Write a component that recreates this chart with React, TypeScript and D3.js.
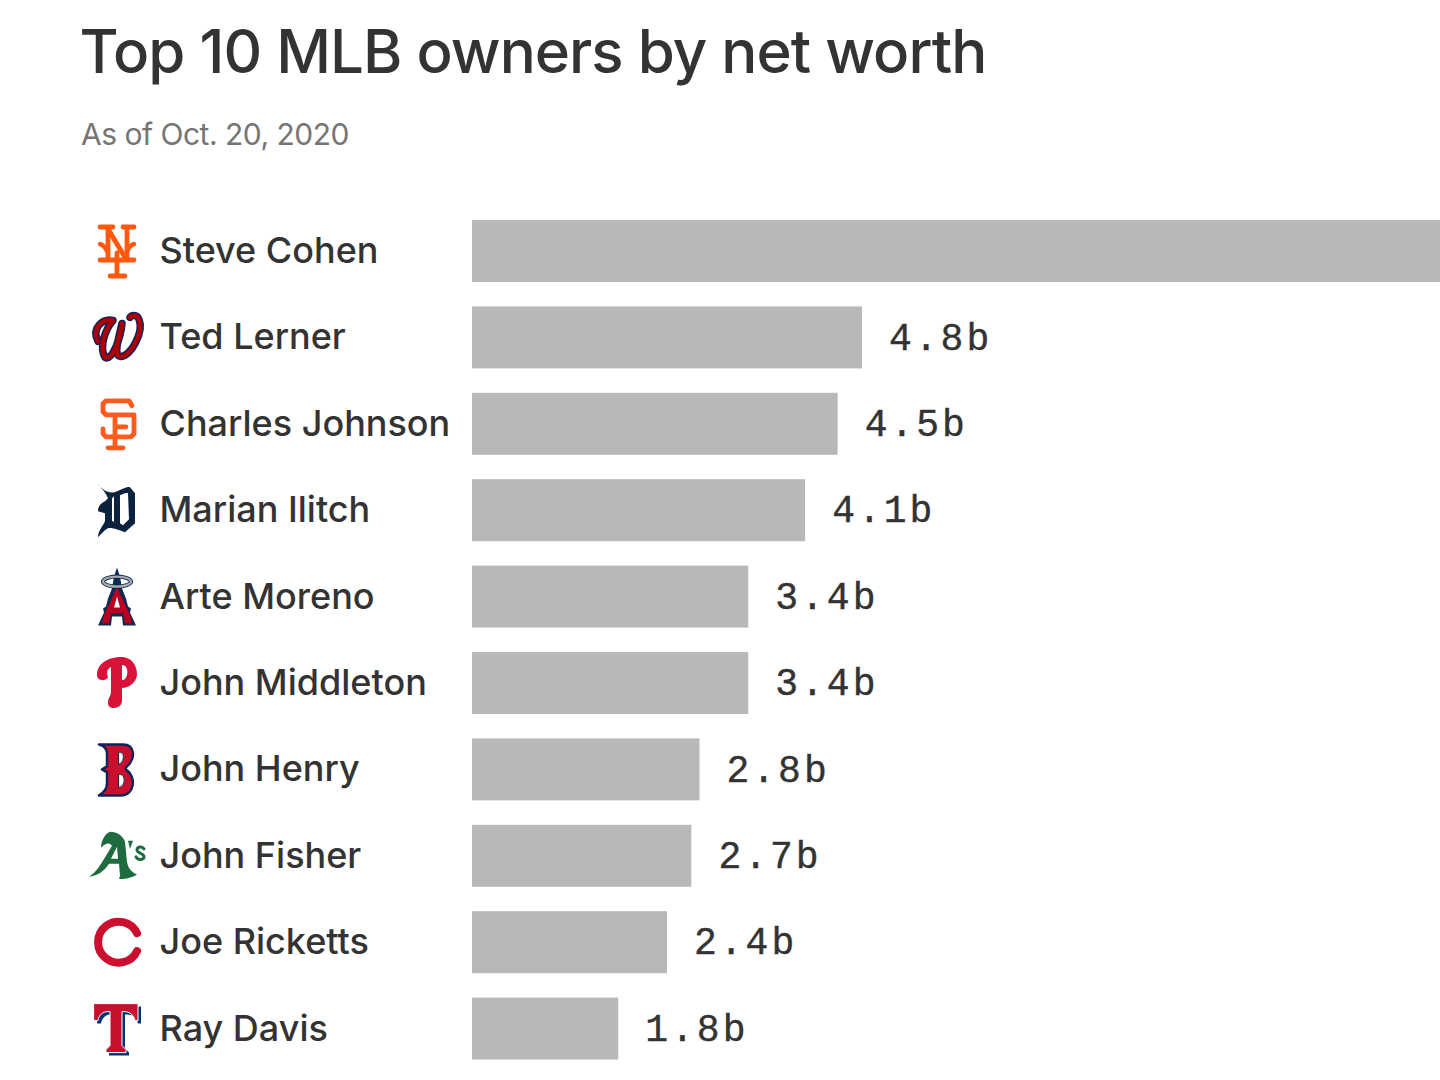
/**
 * Top 10 MLB owners by net worth - D3 scaled horizontal bars
 */

import * as d3 from 'd3';

const owners = ['Steve Cohen', 'Ted Lerner', 'Charles Johnson', 'Marian Ilitch', 'Arte Moreno', 'John Middleton', 'John Henry', 'John Fisher', 'Joe Ricketts', 'Ray Davis'];
const teams = ['mets', 'nationals', 'giants', 'tigers', 'angels', 'phillies', 'redsox', 'athletics', 'cubs', 'rangers'];
// Cohen's bar runs off the page, so his value is an estimate
const netWorth = [14, 4.8, 4.5, 4.1, 3.4, 3.4, 2.8, 2.7, 2.4, 1.8];

const TEXT_FONT = 'Inter, "Noto Sans", sans-serif';
const MONO_FONT = '"Liberation Mono", monospace';

interface LogoPart {
  d: string;
  fill?: string;
  stroke?: string;
  width?: number;
  shift?: number;
}

const W_PATH = 'M-19 4C-26 -10 -14 -19 -4 -17C-12 -8 -18 10 -12 20C-4 24 4 -2 5 -14C2 0 -4 18 3 19C14 20 27 -6 22 -18C20 -24 14 -22 13 -20';
const HALO_PATH = 'M-14 -15A14 5 0 1 0 14 -15A14 5 0 1 0 -14 -15';
const T_PATH = 'M-23 -25H21V-8H18C17 -14 12 -17 7 -17H5V17L9 21V24H-11V21L-7 17V-17H-9C-14 -17 -18 -14 -19 -8H-23Z';

// Team marks, drawn around the centre of their row
const logos: Record<string, LogoPart[]> = {
  mets: [
    { d: 'M-9 9V-24M10 9V-24M-17 -24H-4M6 -24H17M-17 9H-3M3 9H17M0 2V25M-7 25H8', fill: 'none', stroke: '#ff5910', width: 4.8 },
    { d: 'M-9 -22L9 8', fill: 'none', stroke: '#ff5910', width: 5 },
    { d: 'M-17 -7Q-13 -6 -10 0M17 -7Q13 -6 10 0', fill: 'none', stroke: '#ff5910', width: 4.5 },
  ],
  nationals: [
    { d: W_PATH, fill: 'none', stroke: '#14225a', width: 7.5 },
    { d: W_PATH, fill: 'none', stroke: '#ab0003', width: 4.5 },
  ],
  giants: [
    { d: 'M15 -18L12 -23H-11L-14 -20V-12L-11 -9H17V10L14 13H-11L-14 10V5M-2 -9V23M-9 24H6M-2 3H9', fill: 'none', stroke: '#fd5a1e', width: 4.8 },
  ],
  tigers: [
    { d: 'M-20 -27C-14 -20 -9 -17 -3 -18C3 -19 8 -24 13 -23L18 -17V13L8 22C2 20 -5 17 -9 18C-13 20 -16 24 -19 27C-19 21 -15 17 -12 11V3L-19 1C-19 -3 -17 -7 -12 -9L-9 -12C-11 -17 -15 -22 -20 -27Z', fill: '#0c2340' },
    { d: 'M3 -15C6 -16 9 -18 11 -17L12 9L6 15L3 13Z', fill: '#ffffff' },
    { d: 'M-5 -12L-3 -14V12L-5 10Z', fill: '#ffffff' },
  ],
  angels: [
    { d: 'M0 -29L3 -20L5 -8L9 2L11 10L14 12L13 16L19 29H6L5 20H-5L-6 29H-19L-13 16L-14 12L-11 10L-9 2L-5 -8L-3 -20Z', fill: '#0d2a52' },
    { d: 'M0 -10L7 6L13 18L15 27H8L6 17H-6L-8 27H-15L-13 18L-7 6Z', fill: '#ba0021' },
    { d: 'M0 0L3 11H-3Z', fill: '#ffffff' },
    { d: HALO_PATH, fill: 'none', stroke: '#0d2a52', width: 4 },
    { d: HALO_PATH, fill: 'none', stroke: '#a8abb0', width: 2.2 },
  ],
  phillies: [
    { d: 'M-20 -8C-20 -20 -8 -26 4 -26C16 -26 20 -16 20 -9C20 -1 12 5 5 5L5 18C5 26 -9 28 -9 20C-9 14 -6 14 -6 8L-6 -16C-11 -14 -10 -8 -9 -6C-10 -2 -20 -1 -20 -8Z', fill: '#d9123a' },
    { d: 'M5 -18C10 -18 11 -12 10 -8C9 -4 7 -3 5 -3Z', fill: '#ffffff' },
  ],
  redsox: [
    { d: 'M-18 -25H6C18 -25 19 -11 10 -3C8 -1 8 0 10 1C19 7 18 26 4 26H-18C-13 23 -10 20 -10 14V3L-15 0L-10 -3V-16C-10 -20 -13 -24 -18 -25Z', fill: '#c8102e', stroke: '#14225a', width: 2.5 },
    { d: 'M2 -17C8 -18 8 -8 2 -5ZM2 5C9 4 9 17 2 18Z', fill: '#ffffff', stroke: '#14225a', width: 1 },
  ],
  athletics: [
    { d: 'M-7 -24C0 -24 6 -20 8 -14L10 6C11 12 14 16 20 19C14 22 8 24 2 23L3 20L2 8H-8C-13 16 -20 20 -28 21C-20 16 -16 8 -11 0L-5 -10C-8 -14 -12 -12 -16 -8C-16 -15 -12 -22 -7 -24ZM-6 3H1L0 -9Z', fill: '#1d6b3f' },
    { d: 'M11 -15L16 -15L13 -7Z', fill: '#1d6b3f' },
    { d: 'M27 -7C25 -10 20 -9 20 -6C20 -2 27 -3 27 1C27 4 21 5 19 1', fill: 'none', stroke: '#1d6b3f', width: 3 },
  ],
  cubs: [
    { d: 'M20 -9A20.5 20.5 0 1 0 20 9', fill: 'none', stroke: '#cc0f2f', width: 8 },
  ],
  rangers: [
    { d: T_PATH, fill: '#003278', shift: 3 },
    { d: T_PATH, fill: '#c8102e', stroke: '#ffffff', width: 1 },
  ],
};

const x = d3.scaleLinear().domain([0, 1]).range([472, 553.25]);
const y = d3.scaleBand<string>().domain(owners).range([220, 1059.6]).paddingInner(0.2824).paddingOuter(0);

export default function App() {
  return (
    <svg width={1440} height={1080} viewBox="0 0 1440 1080" style={{ position: 'absolute', left: 0, top: 0, display: 'block', background: '#fff' }}>
      <text x={79.5} y={73} fontFamily={TEXT_FONT} fontSize={60} fontWeight={500} letterSpacing={-0.95} fill="#333333">Top 10 MLB owners by net worth</text>
      <text x={81} y={145} fontFamily={TEXT_FONT} fontSize={30} letterSpacing={-0.5} fill="#757575">As of Oct. 20, 2020</text>
      {owners.map((owner, i) => {
        const top = y(owner) as number;
        const mid = top + y.bandwidth() / 2;
        const value = netWorth[i];
        return (
          <g key={owner}>
            <g transform={`translate(117,${mid})`} strokeLinecap="round" strokeLinejoin="round">
              {logos[teams[i]].map((p, j) => (
                <path
                  key={j}
                  d={p.d}
                  fill={p.fill}
                  stroke={p.stroke}
                  strokeWidth={p.width}
                  transform={p.shift ? `translate(${p.shift},${p.shift})` : undefined}
                />
              ))}
            </g>
            <text x={159.5} y={mid - 1} dy="0.36em" fontFamily={TEXT_FONT} fontSize={36} fontWeight={500} fill="#333333">{owner}</text>
            <rect x={x(0)} y={top} width={x(value) - x(0)} height={y.bandwidth()} fill="#b8b8b8" />
            {x(value) < 1300 && (
              <text x={x(value) + 27} y={mid - 1.5} dy="0.36em" fontFamily={MONO_FONT} fontSize={38} letterSpacing={3} stroke="#333333" strokeWidth={0.4} fill="#333333">{value.toFixed(1)}b</text>
            )}
          </g>
        );
      })}
    </svg>
  );
}
